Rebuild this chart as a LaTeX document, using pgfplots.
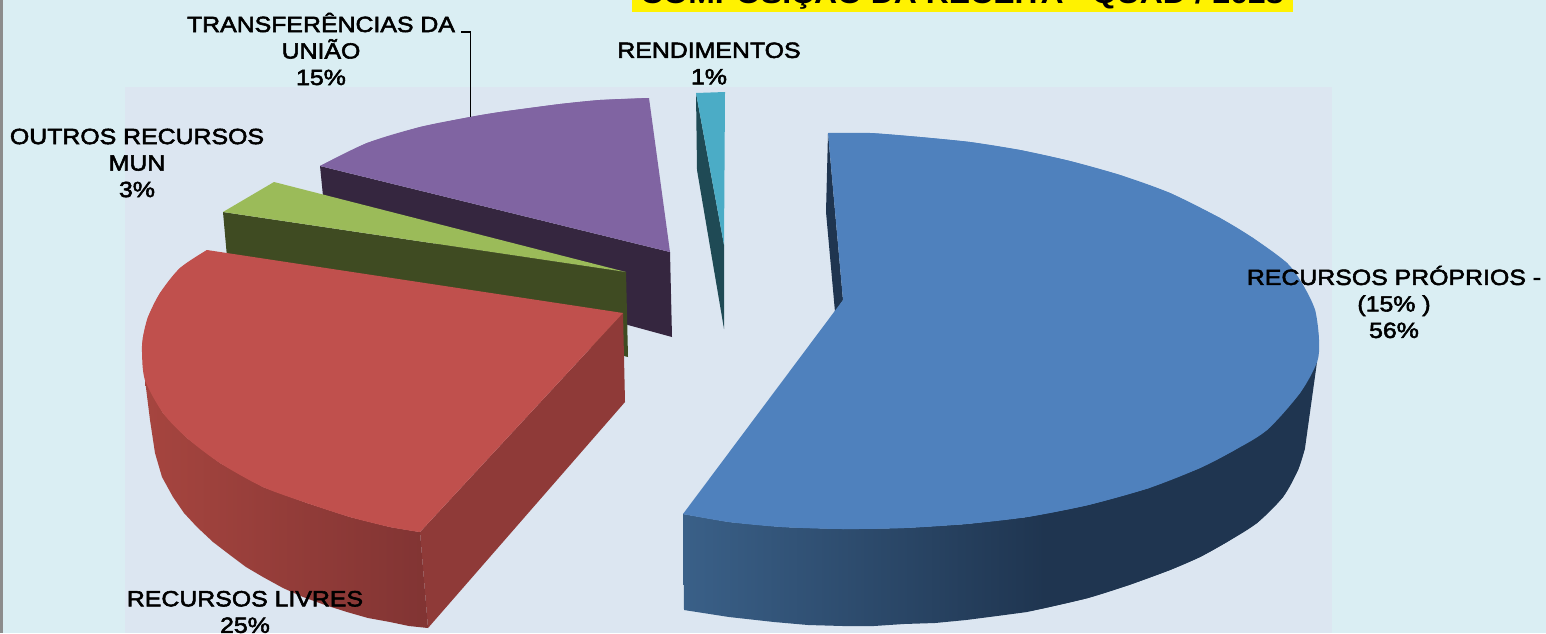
\documentclass[border=0pt]{standalone}
\usepackage{fontspec}
\setmainfont[FakeStretch=1.14]{Liberation Sans}
\newfontfamily\labfont[FakeStretch=1.13,FakeBold=2.5]{Liberation Sans}
\usepackage{pgfplots}
\pgfplotsset{compat=1.18}

\definecolor{pagebg}{HTML}{DAEEF3}
\definecolor{plotbg}{HTML}{DCE6F1}
\definecolor{blueTop}{HTML}{4F81BD}
\definecolor{blueDark}{HTML}{1F3550}
\definecolor{blueLeft}{HTML}{3A6088}
\definecolor{redTop}{HTML}{C0504D}
\definecolor{redCut}{HTML}{8F3A38}
\definecolor{redLeft}{HTML}{A6453F}
\definecolor{redRight}{HTML}{813433}
\definecolor{greenTop}{HTML}{9BBB59}
\definecolor{greenDark}{HTML}{3F4B22}
\definecolor{purpleTop}{HTML}{8064A2}
\definecolor{purpleDark}{HTML}{35263F}
\definecolor{tealTop}{HTML}{4BACC6}
\definecolor{tealDark}{HTML}{1F4A55}

\tikzset{
  lab/.style={align=center, inner sep=0pt, text=black,
    font=\fontsize{22}{26.5}\selectfont\labfont},
}

\begin{document}
\begin{tikzpicture}
\path[use as bounding box, clip] (0,0) rectangle (1546pt,633pt);
\begin{axis}[
  at={(0,0)}, anchor=south west,
  scale only axis, width=1546pt, height=633pt,
  xmin=0, xmax=1546, ymin=0, ymax=633, y dir=reverse,
  hide axis, clip=false,
]
% backgrounds
\addplot[forget plot, draw=none, fill=pagebg] coordinates {(0,0) (1546,0) (1546,633) (0,633)};
\addplot[forget plot, draw=none, fill=plotbg] coordinates {(125,87) (1332,87) (1332,633) (125,633)};
\addplot[forget plot, draw=none, fill=gray!90] coordinates {(0,0) (3,0) (3,633) (0,633)};

% title strip
\addplot[forget plot, draw=none, fill=yellow] coordinates {(632,0) (1293,0) (1293,11.5) (632,11.5)};

% teal slice
\addplot[forget plot, draw=none, fill=tealDark] coordinates {(696,93) (697,170) (724,329) (724,245)};
\addplot[forget plot, draw=none, fill=tealTop] coordinates {(696,93) (725,92) (724,245)};

% purple slice
\addplot[forget plot, draw=none, fill=purpleDark] coordinates {(320,166) (323,196) (628,325) (672,337) (670,252)};
\addplot[forget plot, draw=none, fill=purpleTop] coordinates {(320,166) (367,143) (420,127) (470,117) (500,112)
  (560,104) (600,100) (649,98) (670,252)};
\addplot[forget plot, draw=none, fill=purpleTop, smooth] coordinates {(320,166) (367,143) (420,127) (470,117) (500,112)
  (560,104) (600,100) (649,98)};

% green slice
\addplot[forget plot, draw=none, fill=greenDark] coordinates {(223,212) (227,257) (628,357) (626,272)};
\addplot[forget plot, draw=none, fill=greenTop] coordinates {(223,212) (274,182) (626,272)};

% red slice
\addplot[forget plot, draw=none, fill=redCut] coordinates {(420,532) (428,628) (625,402) (623,313)};
\addplot[forget plot, draw=none, left color=redLeft, right color=redRight] coordinates {
  (145,380) (150,420) (155,453) (162,477) (173,497) (184,513) (197,527) (213,542) (230,555)
  (246,567) (263,577) (283,588) (303,597) (325,605) (347,612) (368,618) (390,622) (409,626)
  (428,628) (420,532) (390,527) (350,517) (307,503) (263,487)
  (220,463) (187,438) (163,413)};
\addplot[forget plot, draw=none, fill=redTop] coordinates {(207,250) (180,268) (160,293) (148,317) (143,337)
  (142,352) (145,380) (163,413) (187,438) (220,463) (263,487) (307,503) (350,517)
  (390,527) (420,532) (623,313)};
\addplot[forget plot, draw=none, fill=redTop, smooth] coordinates {(207,250) (180,268) (160,293) (148,317) (143,337)
  (142,352) (145,380) (163,413) (187,438) (220,463) (263,487) (307,503) (350,517)
  (390,527) (420,532)};

% blue slice
\addplot[forget plot, draw=none, fill=blueDark] coordinates {(828,133) (826,212) (835,312) (843,300)};
\addplot[forget plot, draw=none, fill=blueDark] coordinates {(1030,500) (1317,362) (1305,448) (1298,470) (1283,497)
  (1257,523) (1227,542) (1200,557) (1170,570) (1129,585) (1088,598) (1045,608) (1030,611)};
\addplot[forget plot, draw=none, fill=blueDark, smooth] coordinates {(1305,448) (1298,470) (1283,497)
  (1257,523) (1227,542) (1200,557) (1170,570) (1129,585) (1088,598) (1045,608)};
\addplot[forget plot, draw=none, left color=blueLeft, right color=blueDark] coordinates {
  (683,514) (684,610) (729,617) (774,622) (808,625) (843,626) (874,626) (904,624) (935,623) (966,620) (997,616) (1027,612)
  (1045,608) (1045,512) (1027,517) (966,524) (904,528) (843,529) (782,527) (729,522)};
\addplot[forget plot, draw=none, fill=blueTop] coordinates {(828,133) (870,133) (920,137) (970,142) (1020,150)
  (1070,161) (1120,175) (1170,193) (1220,218) (1253,238) (1287,263) (1303,285) (1315,310)
  (1319,340) (1317,362) (1300,393) (1267,430) (1233,451) (1200,468) (1149,488) (1088,505)
  (1027,517) (966,524) (904,528) (843,529) (782,527) (729,522) (683,514) (843,300)};
% arc smoothed in two pieces so that the closing chords stay inside the slice
\addplot[forget plot, draw=none, fill=blueTop, smooth] coordinates {(828,133) (870,133) (920,137) (970,142) (1020,150)
  (1070,161) (1120,175) (1170,193) (1220,218) (1253,238) (1287,263) (1303,285) (1315,310)
  (1319,340) (1317,362) (1300,393) (1267,430) (1233,451) (1200,468) (1149,488) (1088,505)
  (1027,517)};
\addplot[forget plot, draw=none, fill=blueTop, smooth] coordinates {(1149,488) (1088,505)
  (1027,517) (966,524) (904,528) (843,529) (782,527) (729,522) (683,514)};

% leader line
\addplot[forget plot, black, line width=1.4pt] coordinates {(461,32) (470.5,32) (470.5,117)};

% labels
\node[lab] at (axis cs:321,49) {TRANSFERÊNCIAS DA\\UNIÃO\\15\%};
\node[lab] at (axis cs:709,63.5) {RENDIMENTOS\\1\%};
\node[lab] at (axis cs:137,163) {OUTROS RECURSOS\\MUN\\3\%};
\node[lab] at (axis cs:1394,302) {RECURSOS PRÓPRIOS -\\(15\% )\\56\%};
\node[lab] at (axis cs:245,612) {RECURSOS LIVRES\\25\%};
\node[anchor=base, inner sep=0pt, font=\fontsize{28}{32}\selectfont\bfseries]
  at (axis cs:962,3.5) {COMPOSIÇÃO DA RECEITA - QUAD / 2023};
\end{axis}
\end{tikzpicture}
\end{document}
